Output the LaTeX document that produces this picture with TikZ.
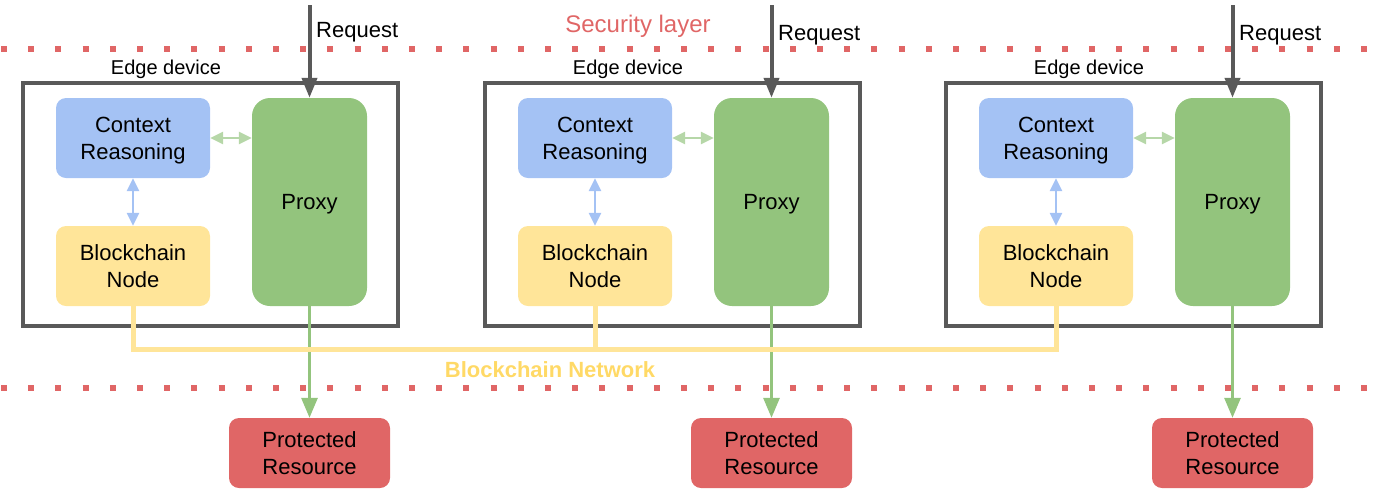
\documentclass[tikz,border=0pt]{standalone}
\usepackage{fontspec}
\setmainfont{Liberation Sans}
\usetikzlibrary{arrows.meta}
\definecolor{dgray}{HTML}{595959}
\definecolor{cblue}{HTML}{A4C2F4}
\definecolor{cgreen}{HTML}{93C47D}
\definecolor{cyellow}{HTML}{FFE599}
\definecolor{cred}{HTML}{E06666}
\definecolor{lgreen}{HTML}{B6D7A8}
\definecolor{tyellow}{HTML}{FFD966}
\tikzset{
  box/.style={rectangle, rounded corners=10pt, align=center, inner sep=0pt, text depth=0pt,
    font=\fontsize{22}{27}\selectfont, text=black},
  ctxbox/.style={box, fill=cblue, minimum width=154pt, minimum height=80pt},
  blkbox/.style={box, fill=cyellow, minimum width=154pt, minimum height=80pt},
  prxbox/.style={box, fill=cgreen, rounded corners=18pt, minimum width=115pt, minimum height=208pt},
  resbox/.style={box, fill=cred, minimum width=161pt, minimum height=70pt},
  edgebox/.style={rectangle, draw=dgray, line width=4pt, minimum width=375pt, minimum height=243pt, inner sep=0pt},
  lbl/.style={font=\fontsize{20}{24}\selectfont, text=black, inner sep=0pt, text depth=0pt},
  reqlbl/.style={font=\fontsize{22}{26}\selectfont, text=black, inner sep=0pt, text depth=0pt, anchor=west},
  reqarrow/.style={draw=dgray, line width=4pt, -{Triangle[length=20pt,width=15pt]}},
  resarrow/.style={draw=cgreen, line width=3pt, -{Triangle[length=20pt,width=16pt]}},
  dblgreen/.style={draw=lgreen, line width=2.5pt, {Triangle[length=13pt,width=12pt]}-{Triangle[length=13pt,width=12pt]}},
  dblblue/.style={draw=cblue, line width=2.5pt, {Triangle[length=13pt,width=12pt]}-{Triangle[length=13pt,width=12pt]}},
  bcline/.style={draw=cyellow, line width=5pt},
  dotline/.style={draw=cred, line width=6pt, dash pattern=on 6pt off 21.2pt},
}
\begin{document}
\begin{tikzpicture}[x=1pt,y=-1pt]
\useasboundingbox (0,0) rectangle (1375,491);
% security layer lines
\draw[dotline] (1,49) -- (1373,49);
\draw[dotline] (1,388) -- (1373,388);
\node[font=\fontsize{24}{28}\selectfont, text=cred, inner sep=0pt, text depth=0pt] (sec) at (638,24) {Security layer};

\foreach \i/\dx/\ry in {1/0/30, 2/462/33, 3/923/33}{
  \node[edgebox] (edge\i) at (210.5+\dx,204.5) {};
  \node[lbl] (edgelbl\i) at (166+\dx,67) {Edge device};
  \node[ctxbox] (ctx\i) at (133+\dx,138) {Context\\Reasoning};
  \node[blkbox] (blk\i) at (133+\dx,266) {Blockchain\\Node};
  \node[prxbox] (prx\i) at (309.5+\dx,202) {Proxy};
  \node[resbox] (res\i) at (309.5+\dx,453) {Protected\\Resource};
  \coordinate (reqtop\i) at (309.5+\dx,5);
  \node[reqlbl] (reqlbl\i) at (316+\dx,\ry) {Request};
  \draw[reqarrow] (reqtop\i) -- (prx\i.north);
  \draw[resarrow] (prx\i.south) -- (res\i.north);
  \draw[dblgreen] (ctx\i.east) -- (ctx\i.east -| prx\i.west);
  \draw[dblblue] (ctx\i.south) -- (blk\i.north);
}
% blockchain network
\coordinate (bnet) at (0,349);
\draw[bcline] (blk1.south) -- (blk1.south |- bnet) -- (blk3.south |- bnet) -- (blk3.south);
\draw[bcline] (blk2.south) -- (blk2.south |- bnet);
\node[font=\bfseries\fontsize{22}{26}\selectfont, text=tyellow, inner sep=0pt] (bnlbl) at (550,370) {Blockchain Network};
\end{tikzpicture}
\end{document}
